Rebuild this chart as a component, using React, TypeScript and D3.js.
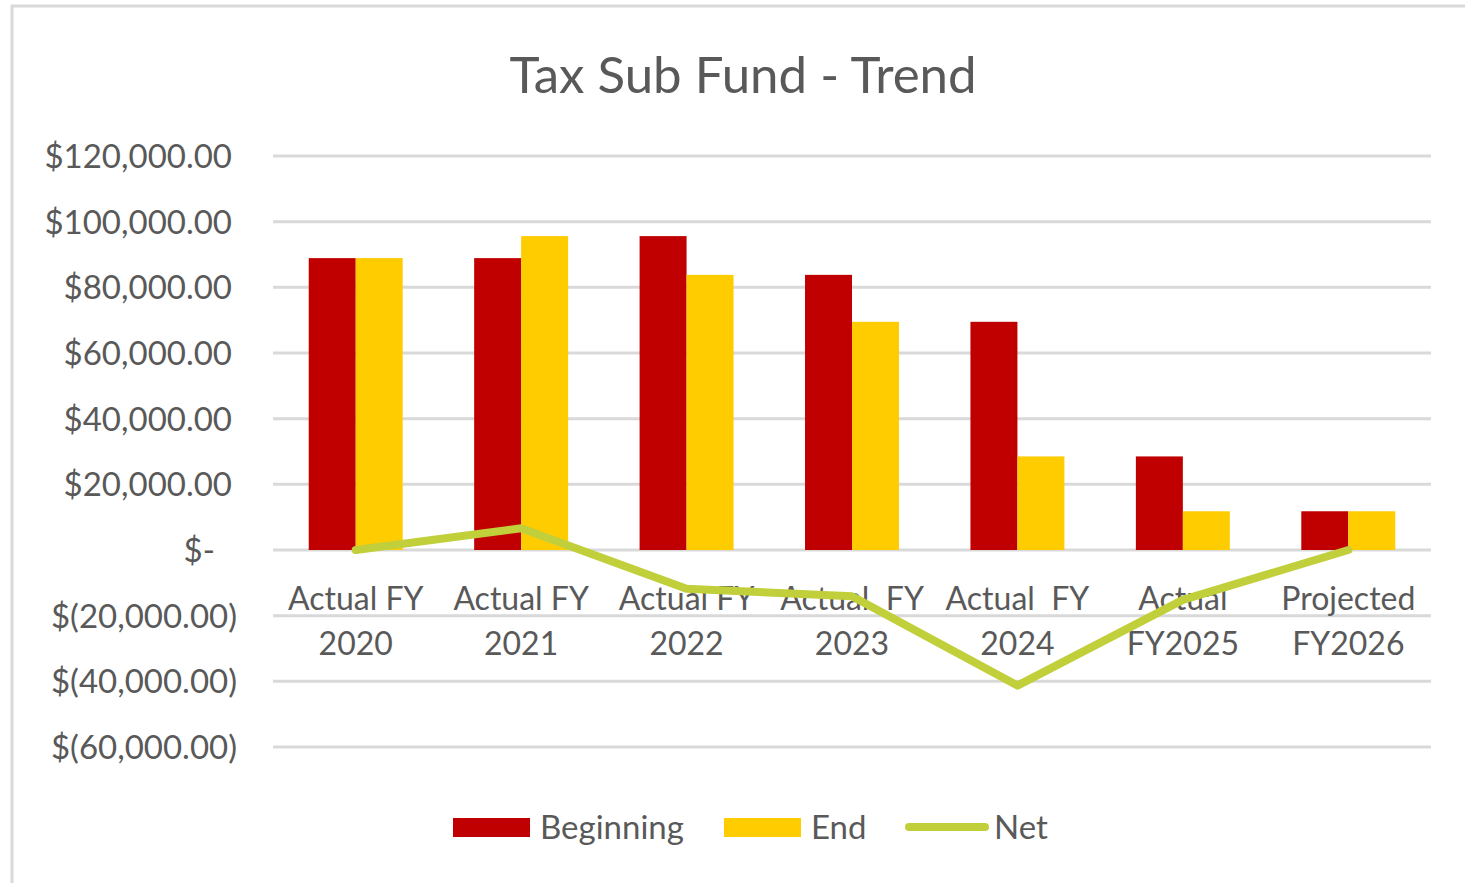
// App.tsx
import React, { useEffect, useRef } from "react";
import * as d3 from "d3";

const categories = [
  ["Actual FY", "2020"],
  ["Actual FY", "2021"],
  ["Actual FY", "2022"],
  ["Actual  FY", "2023"],
  ["Actual  FY", "2024"],
  ["Actual", "FY2025"],
  ["Projected", "FY2026"],
];
const beginning = [88900, 88900, 95600, 83800, 69500, 28500, 11800];
const end = [88900, 95600, 83800, 69500, 28500, 11800, 11800];
const net = [0, 6600, -11800, -14100, -41300, -15200, 0];
const yTicks = [-60000, -40000, -20000, 0, 20000, 40000, 60000, 80000, 100000, 120000];
const legendItems = ["Beginning", "End", "Net"];

const RED = "#c00000";
const YELLOW = "#ffcc00";
const GREEN = "#c0cf3a";
const TEXT = "#595959";
const GRID = "#d9d9d9";
const FONT = "Lato, 'Open Sans', sans-serif";

function fmtTick(v: number) {
  if (v === 0) return "$-";
  const s = d3.format(",.2f")(Math.abs(v));
  return v < 0 ? `$(${s})` : `$${s}`;
}

export default function App() {
  const ref = useRef<SVGSVGElement | null>(null);

  useEffect(() => {
    const width = 1465;
    const height = 883;
    const margin = { left: 273, right: 34, top: 156, bottom: 136 };

    const svg = d3.select(ref.current);
    svg.selectAll("*").remove();

    svg.append("rect").attr("width", width).attr("height", height).attr("fill", "#fff");

    // chart frame (cropped at right/bottom in the original)
    svg
      .append("rect")
      .attr("x", 12)
      .attr("y", 6)
      .attr("width", width + 20)
      .attr("height", height + 20)
      .attr("fill", "none")
      .attr("stroke", GRID)
      .attr("stroke-width", 3);

    svg
      .append("text")
      .attr("x", 743)
      .attr("y", 93)
      .attr("text-anchor", "middle")
      .attr("fill", TEXT)
      .style("font", `51px ${FONT}`)
      .text("Tax Sub Fund - Trend");

    const x = d3
      .scaleBand()
      .domain(categories.map((d, i) => String(i)))
      .range([margin.left, width - margin.right])
      .paddingInner(0.432)
      .paddingOuter(0.216);

    const xInner = d3
      .scaleBand()
      .domain(["b", "e"])
      .range([0, x.bandwidth()]);

    const y = d3
      .scaleLinear()
      .domain([-60000, 120000])
      .range([height - margin.bottom, margin.top]);

    // gridlines
    svg
      .append("g")
      .selectAll("line")
      .data(yTicks)
      .enter()
      .append("line")
      .attr("x1", margin.left)
      .attr("x2", width - margin.right)
      .attr("y1", (d) => y(d))
      .attr("y2", (d) => y(d))
      .attr("stroke", GRID)
      .attr("stroke-width", 3);

    // y tick labels (accounting style alignment)
    svg
      .append("g")
      .selectAll("text")
      .data(yTicks)
      .enter()
      .append("text")
      .attr("x", (d) => (d < 0 ? 237 : d === 0 ? 215 : 232))
      .attr("y", (d) => y(d) + 12)
      .attr("text-anchor", "end")
      .attr("fill", TEXT)
      .style("font", `33px ${FONT}`)
      .text((d) => fmtTick(d));

    // bars
    const groups = svg
      .append("g")
      .selectAll("g")
      .data(categories)
      .enter()
      .append("g")
      .attr("transform", (d, i) => `translate(${x(String(i))},0)`);

    groups
      .append("rect")
      .attr("x", xInner("b")!)
      .attr("width", xInner.bandwidth())
      .attr("y", (d, i) => y(beginning[i]))
      .attr("height", (d, i) => y(0) - y(beginning[i]))
      .attr("fill", RED);

    groups
      .append("rect")
      .attr("x", xInner("e")!)
      .attr("width", xInner.bandwidth())
      .attr("y", (d, i) => y(end[i]))
      .attr("height", (d, i) => y(0) - y(end[i]))
      .attr("fill", YELLOW);

    // category labels
    groups
      .append("text")
      .attr("text-anchor", "middle")
      .attr("fill", TEXT)
      .attr("xml:space", "preserve")
      .style("white-space", "pre")
      .style("font", `32px ${FONT}`)
      .each(function (d) {
        const t = d3.select(this);
        d.forEach((line, k) => {
          t.append("tspan")
            .attr("x", x.bandwidth() / 2)
            .attr("y", 610 + k * 45)
            .text(line);
        });
      });

    // net line
    const line = d3
      .line<number>()
      .x((d, i) => x(String(i))! + x.bandwidth() / 2)
      .y((d) => y(d));

    svg
      .append("path")
      .datum(net)
      .attr("d", line)
      .attr("fill", "none")
      .attr("stroke", GREEN)
      .attr("stroke-width", 8)
      .attr("stroke-linecap", "round")
      .attr("stroke-linejoin", "round");

    // legend
    const legend = svg.append("g").style("font", `33px ${FONT}`);
    const lx = [453, 724, 905];
    legendItems.forEach((name, i) => {
      if (i < 2) {
        legend
          .append("rect")
          .attr("x", lx[i])
          .attr("y", 818)
          .attr("width", 77)
          .attr("height", 19)
          .attr("fill", i === 0 ? RED : YELLOW);
      } else {
        legend
          .append("line")
          .attr("x1", lx[i] + 4)
          .attr("x2", lx[i] + 80)
          .attr("y1", 827)
          .attr("y2", 827)
          .attr("stroke", GREEN)
          .attr("stroke-width", 8)
          .attr("stroke-linecap", "round");
      }
      legend
        .append("text")
        .attr("x", lx[i] + (i === 2 ? 89 : 87))
        .attr("y", 839)
        .attr("fill", TEXT)
        .text(name);
    });
  }, []);

  return (
    <svg
      ref={ref}
      width={1465}
      height={883}
      style={{ position: "absolute", left: 0, top: 0 }}
    />
  );
}
